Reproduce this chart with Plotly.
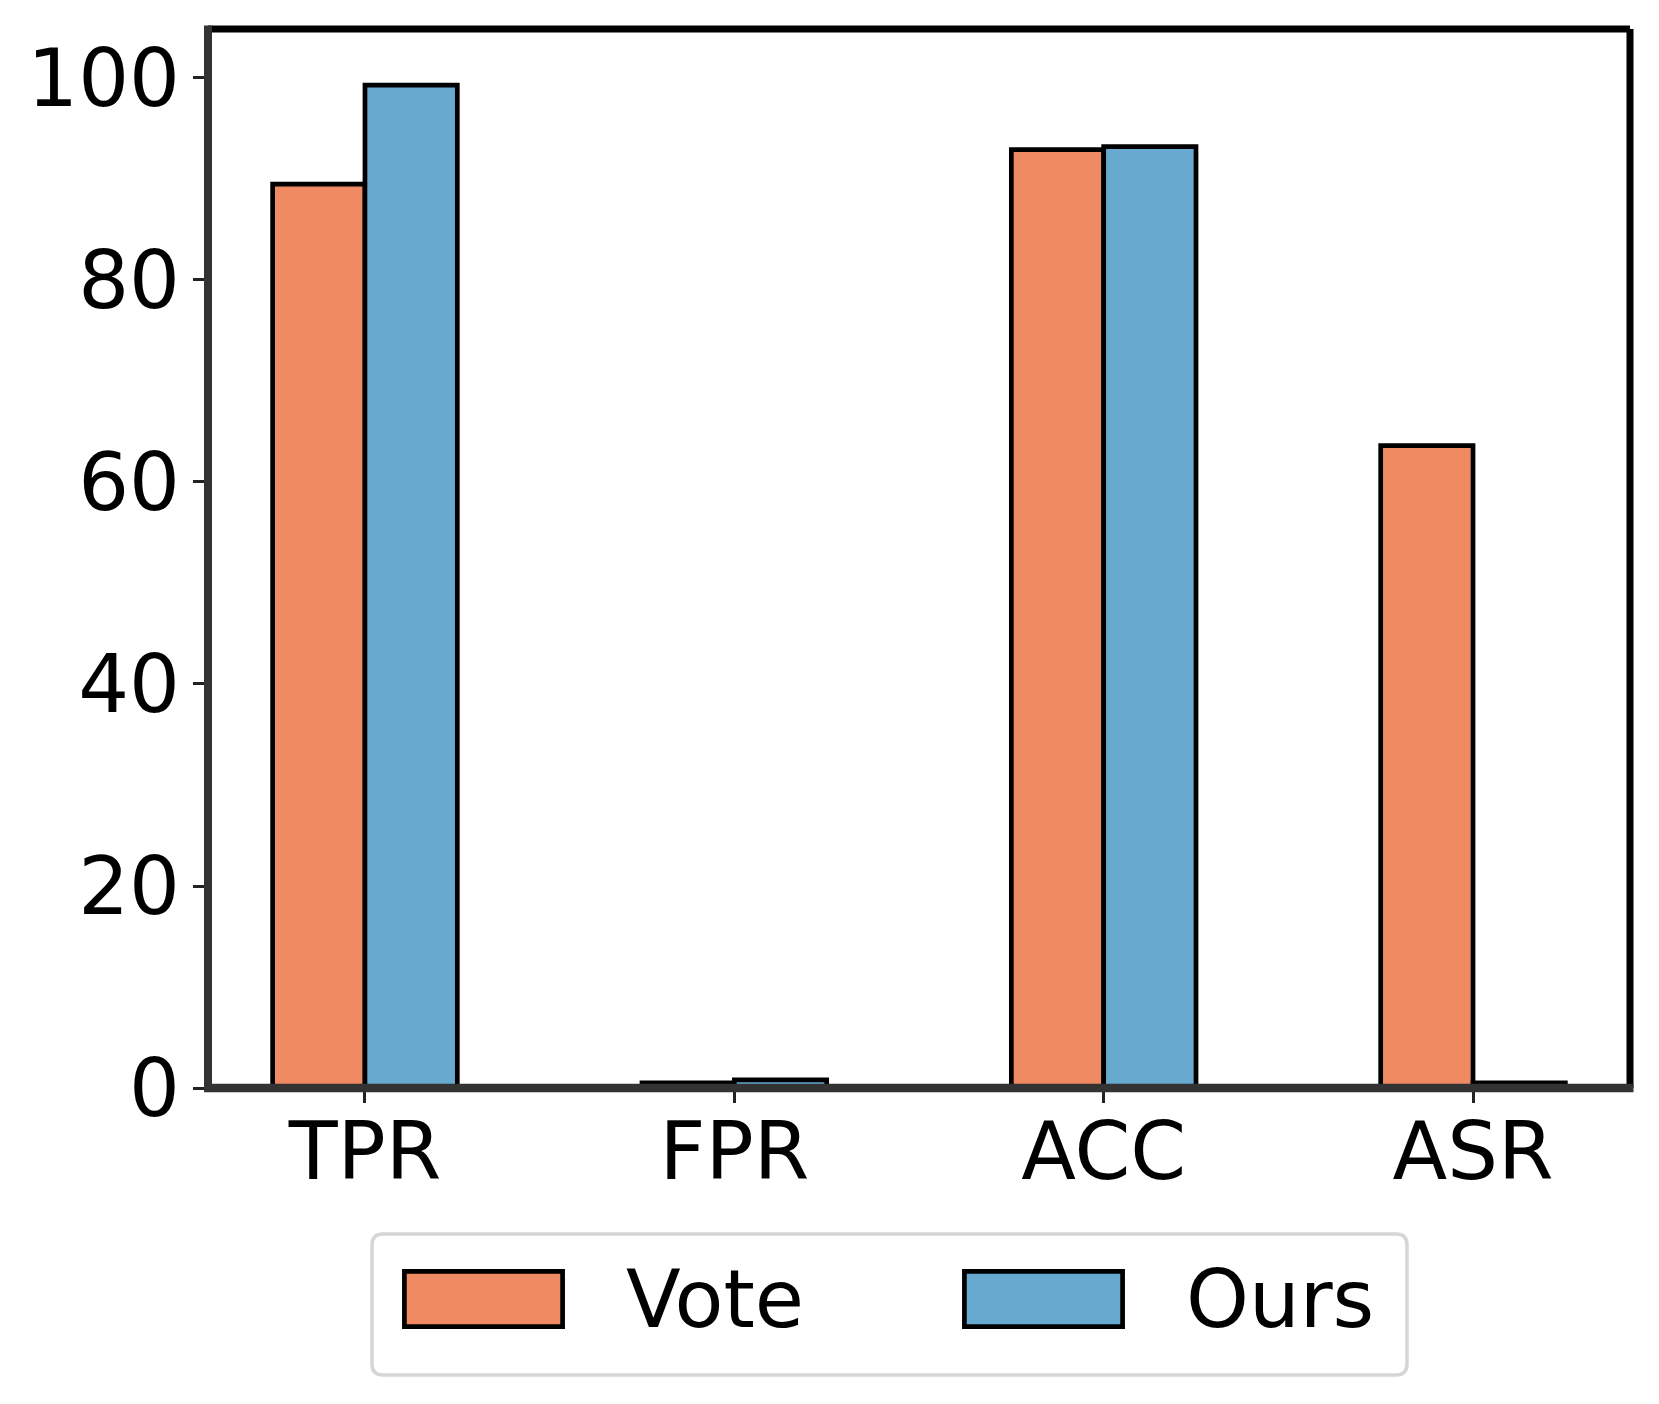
import plotly.graph_objects as go

categories = ["TPR", "FPR", "ACC", "ASR"]
series_names = ["Vote", "Ours"]
vote_values = [89.5, 0.5, 92.9, 63.6]
ours_values = [99.3, 0.8, 93.2, 0.5]
series_colors = ["#ef8a62", "#67a9cf"]
y_tick_values = [0, 20, 40, 60, 80, 100]
y_tick_labels = ["0", "20", "40", "60", "80", "100"]

OFF = 8  # page body margin
W, H = 1659, 1404
L, R, T, B = 208 - OFF, 1630 - OFF, 29 - OFF, 1088 - OFF  # plot area in figure pixels
PW, PH = R - L, B - T

def px(x):
    return (x - OFF - L) / PW

def py(y):
    return (B - (y - OFF)) / PH

FONT = "DejaVu Sans"

fig = go.Figure()
for name, vals, col in zip(series_names, [vote_values, ours_values], series_colors):
    fig.add_trace(go.Bar(
        x=categories, y=vals, name=name,
        marker=dict(color=col, line=dict(color="black", width=4.7)),
        showlegend=False,
    ))

shapes = []
# spines
shapes.append(dict(type="line", xref="paper", yref="paper", x0=0, x1=1, y0=1, y1=1,
                   line=dict(color="black", width=7), layer="above"))
shapes.append(dict(type="line", xref="paper", yref="paper", x0=1, x1=1, y0=0, y1=1,
                   line=dict(color="black", width=7), layer="above"))
shapes.append(dict(type="line", xref="paper", yref="paper", x0=0, x1=0, y0=-4/PH, y1=1 + 3.5/PH,
                   line=dict(color="#333333", width=8), layer="above"))
shapes.append(dict(type="line", xref="paper", yref="paper", x0=-4/PW, x1=1 + 3.5/PW, y0=0, y1=0,
                   line=dict(color="#333333", width=8.5), layer="above"))

# legend box (rounded)
bx0, bx1, by0, by1 = 372, 1407, 1234, 1375
r = 11
path = (f"M {px(bx0 + r)} {py(by0)} L {px(bx1 - r)} {py(by0)} "
        f"Q {px(bx1)} {py(by0)} {px(bx1)} {py(by0 + r)} "
        f"L {px(bx1)} {py(by1 - r)} Q {px(bx1)} {py(by1)} {px(bx1 - r)} {py(by1)} "
        f"L {px(bx0 + r)} {py(by1)} Q {px(bx0)} {py(by1)} {px(bx0)} {py(by1 - r)} "
        f"L {px(bx0)} {py(by0 + r)} Q {px(bx0)} {py(by0)} {px(bx0 + r)} {py(by0)} Z")
shapes.append(dict(type="path", xref="paper", yref="paper", path=path,
                   line=dict(color="#d6d6d6", width=3.5), fillcolor="white"))

annotations = []
patch_x = [402, 962]
text_x = [624, 1184]
for name, col, pxl, tx in zip(series_names, series_colors, patch_x, text_x):
    shapes.append(dict(type="rect", xref="paper", yref="paper",
                       x0=px(pxl + 2.4), x1=px(pxl + 163 - 2.4),
                       y0=py(1269 + 2.4), y1=py(1329 - 2.4),
                       fillcolor=col, line=dict(color="black", width=4.7)))
    annotations.append(dict(xref="paper", yref="paper", x=px(tx), y=py(1299),
                            xanchor="left", yanchor="middle", text=name, showarrow=False,
                            font=dict(family=FONT, size=80, color="black")))

fig.update_layout(
    width=W, height=H,
    margin=dict(l=L, r=W - R, t=T, b=H - B, pad=0),
    paper_bgcolor="white", plot_bgcolor="white",
    barmode="group", bargap=0.5, bargroupgap=0,
    font=dict(family=FONT, size=80, color="black"),
    shapes=shapes, annotations=annotations,
    xaxis=dict(range=[-0.425, 3.425], showgrid=False, zeroline=False, showline=False,
               ticks="outside", ticklen=14, tickwidth=2.5, tickcolor="#222222",
               tickfont=dict(family=FONT, size=80, color="black"), ticklabelstandoff=-20),
    yaxis=dict(range=[0, 104.85], showgrid=False, zeroline=False, showline=False,
               tickvals=y_tick_values, ticktext=y_tick_labels,
               ticks="outside", ticklen=14, tickwidth=2.5, tickcolor="#222222",
               tickfont=dict(family=FONT, size=80, color="black"), ticklabelstandoff=-3),
)

fig.write_html("out.html")
